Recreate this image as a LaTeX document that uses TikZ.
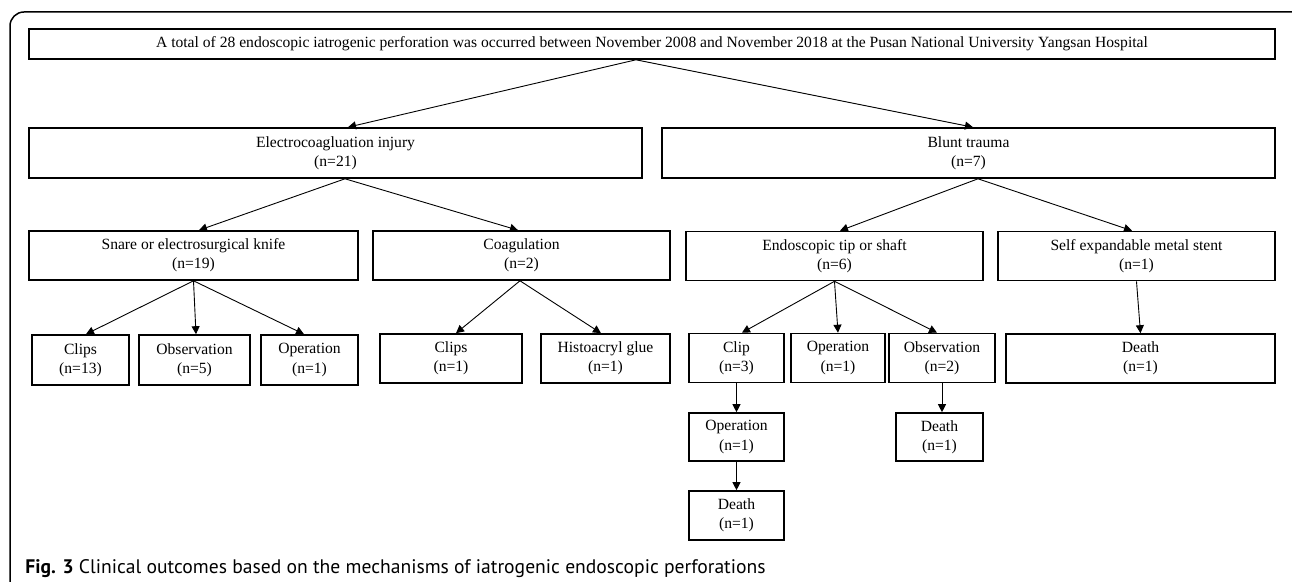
\documentclass[tikz,border=0pt]{standalone}
\usepackage{fontspec}
\setmainfont{Liberation Serif}
\newfontfamily\capfont{PT Sans}
\usetikzlibrary{arrows.meta}

\begin{document}
\begin{tikzpicture}[x=0.5pt,y=-0.5pt,
  box/.style={draw,line width=0.8pt,align=center,inner sep=0pt,font=\fontsize{7.8}{9.6}\selectfont},
  link/.style={-{Triangle[length=4pt,width=4pt]},line width=0.45pt}]
  \useasboundingbox (0,0) rectangle (1292,582);
  % outer frame, cut at the page edge
  \begin{scope}
    \clip (0,0) rectangle (1292,582);
    \draw[line width=0.75pt,rounded corners=7pt] (10,12) rectangle (1320,620);
  \end{scope}

  % top
  \node[box,minimum width=623pt,minimum height=15pt] (total) at (652,44) {A total of 28 endoscopic iatrogenic perforation was occurred between November 2008 and November 2018 at the Pusan National University Yangsan Hospital};

  % mechanism
  \node[box,minimum width=306.5pt,minimum height=25pt] (electro) at (335.5,153) {Electrocoagluation injury\\(n=21)};
  \node[box,minimum width=306.5pt,minimum height=25pt] (blunt) at (968.5,153) {Blunt trauma\\(n=7)};

  % device
  \node[box,minimum width=164.5pt,minimum height=24.5pt] (snare) at (193.5,255.5) {Snare or electrosurgical knife\\(n=19)};
  \node[box,minimum width=148.5pt,minimum height=24.5pt] (coag) at (521.5,255.5) {Coagulation\\(n=2)};
  \node[box,minimum width=148.5pt,minimum height=24.5pt] (tip) at (834.5,256) {Endoscopic tip or shaft\\(n=6)};
  \node[box,minimum width=138.5pt,minimum height=24.5pt] (sems) at (1136.5,256) {Self expandable metal stent\\(n=1)};

  % treatment
  \node[box,minimum width=48.5pt,minimum height=25pt] (clipsA) at (80.5,360) {Clips\\(n=13)};
  \node[box,minimum width=55.5pt,minimum height=25pt] (obsA) at (194.5,360) {Observation\\(n=5)};
  \node[box,minimum width=48.5pt,minimum height=25pt] (opA) at (309.5,360) {Operation\\(n=1)};
  \node[box,minimum width=71pt,minimum height=24.5pt] (clipsB) at (451,358.5) {Clips\\(n=1)};
  \node[box,minimum width=64.5pt,minimum height=24.5pt] (glue) at (605.5,358.5) {Histoacryl glue\\(n=1)};
  \node[box,minimum width=47.5pt,minimum height=24.5pt] (clipC) at (736.5,358) {Clip\\(n=3)};
  \node[box,minimum width=47pt,minimum height=24.5pt] (opB) at (838,358) {Operation\\(n=1)};
  \node[box,minimum width=53pt,minimum height=24.5pt] (obsB) at (942,358) {Observation\\(n=2)};
  \node[box,minimum width=134.5pt,minimum height=24.5pt] (deathA) at (1140.5,358.5) {Death\\(n=1)};

  % outcome
  \node[box,minimum width=47.5pt,minimum height=24pt] (opC) at (736.5,437) {Operation\\(n=1)};
  \node[box,minimum width=47.5pt,minimum height=24.5pt] (deathB) at (736.5,515.5) {Death\\(n=1)};
  \node[box,minimum width=43.5pt,minimum height=24pt] (deathC) at (939.5,437) {Death\\(n=1)};

  \draw[link] ([xshift=-8pt]total.south) -- ([xshift=6.25pt]electro.north);
  \draw[link] ([xshift=-8pt]total.south) -- ([xshift=2.25pt]blunt.north);
  \draw[link] ([xshift=4.75pt]electro.south) -- ([xshift=2.75pt]snare.north);
  \draw[link] ([xshift=4.75pt]electro.south) -- ([xshift=-1.75pt]coag.north);
  \draw[link] ([xshift=4.75pt]blunt.south) -- ([xshift=2.75pt]tip.north);
  \draw[link] ([xshift=4.75pt]blunt.south) -- ([xshift=-2.25pt]sems.north);
  \draw[link] (snare.south) -- ([xshift=2.75pt]clipsA.north);
  \draw[link] (snare.south) -- ([xshift=0.75pt]obsA.north);
  \draw[link] (snare.south) -- ([xshift=-2.75pt]opA.north);
  \draw[link] ([xshift=-0.75pt]coag.south) -- ([xshift=2.5pt]clipsB.north);
  \draw[link] ([xshift=-0.75pt]coag.south) -- ([xshift=-2.25pt]glue.north);
  \draw[link] (tip.south) -- ([xshift=2.75pt]clipC.north);
  \draw[link] (tip.south) -- (opB.north);
  \draw[link] (tip.south) -- ([xshift=-2.5pt]obsB.north);
  \draw[link] (sems.south) -- (deathA.north);
  \draw[link] (clipC.south) -- (opC.north);
  \draw[link] (opC.south) -- (deathB.north);
  \draw[link] (obsB.south) -- ([xshift=1.25pt]deathC.north);

  % caption
  \node[anchor=base west,inner sep=0pt,font=\capfont\fontsize{9.8}{12}\selectfont] (caption) at (25,574) {\textbf{Fig. 3} Clinical outcomes based on the mechanisms of iatrogenic endoscopic perforations};
\end{tikzpicture}
\end{document}
